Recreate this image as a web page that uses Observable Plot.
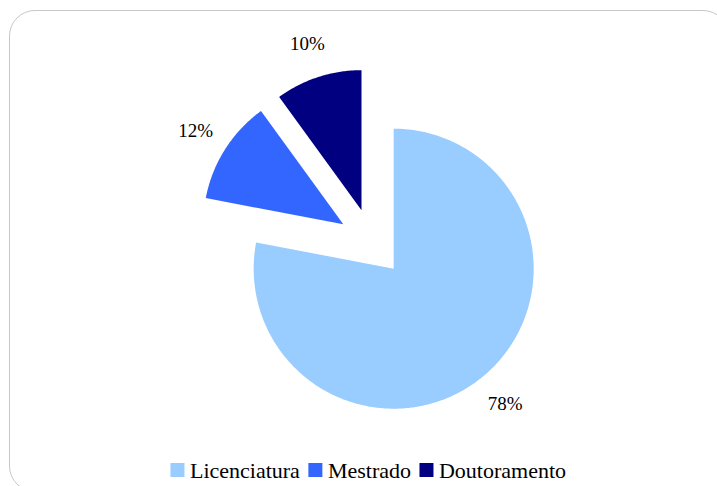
<!DOCTYPE html>
<html>
<head>
<meta charset="utf-8">
<script src="https://cdn.jsdelivr.net/npm/d3@7"></script>
<script src="https://cdn.jsdelivr.net/npm/@observablehq/plot@0.6"></script>
<style>
  html, body { margin: 0; padding: 0; background: #fff; overflow: hidden; }
  #wrap { position: relative; width: 717px; height: 486px; overflow: hidden; }
  #frame { position: absolute; left: 9px; top: 10px; width: 720px; height: 482px;
           border: 1.6px solid #c8c8c8; border-radius: 26px; box-sizing: border-box; }
  #chart { position: absolute; left: 0; top: 0; }
  #chart svg text { font-family: "Liberation Serif", "Times New Roman", serif !important; }
</style>
</head>
<body>
<div id="wrap"><div id="frame"></div><div id="chart"></div></div>
<script>
const categories = ["Licenciatura", "Mestrado", "Doutoramento"];
const values = [78, 12, 10];
const labels = ["78%", "12%", "10%"];
const colors = ["#99CCFF", "#3366FF", "#000080"];

const W = 717, H = 486;
const cx = 371.5, cy = 242, R = 140, explode = 34, labelR = 209;
const serif = "Liberation Serif, Times New Roman, serif";

const arcs = d3.pie().sort(null).startAngle(0).endAngle(2 * Math.PI)(values);

const polys = [];
const labelData = [];
arcs.forEach((a, i) => {
  const mid = (a.startAngle + a.endAngle) / 2;
  const ox = cx + explode * Math.sin(mid), oy = cy - explode * Math.cos(mid);
  const pts = [{x: ox, y: oy, cat: categories[i]}];
  const n = Math.max(8, Math.ceil((a.endAngle - a.startAngle) / 0.01));
  for (let k = 0; k <= n; k++) {
    const t = a.startAngle + (a.endAngle - a.startAngle) * k / n;
    pts.push({x: ox + R * Math.sin(t), y: oy - R * Math.cos(t), cat: categories[i]});
  }
  pts.push({x: ox, y: oy, cat: categories[i]});
  polys.push(...pts);
  labelData.push({x: cx + labelR * Math.sin(mid), y: cy - labelR * Math.cos(mid), text: labels[i]});
});

const ctx = document.createElement("canvas").getContext("2d");
ctx.font = "22px 'Liberation Serif', serif";
const sq = 14, gapSq = 5, gapItem = 9;
const widths = categories.map(c => ctx.measureText(c).width);
const total = widths.reduce((s, w) => s + sq + gapSq + w, 0) + gapItem * (categories.length - 1);
let lx = 368 - total / 2;
const legY = 470;
const legendRects = [], legendTexts = [];
categories.forEach((c, i) => {
  legendRects.push({x1: lx, x2: lx + sq, y1: legY - sq / 2, y2: legY + sq / 2, cat: c});
  legendTexts.push({x: lx + sq + gapSq, y: legY, text: c});
  lx += sq + gapSq + widths[i] + gapItem;
});

const chart = Plot.plot({
  width: W, height: H,
  margin: 0,
  x: {domain: [0, W], range: [0, W], axis: null},
  y: {domain: [0, H], range: [0, H], axis: null},
  color: {domain: categories, range: colors},
  style: {background: "transparent", fontFamily: serif},
  marks: [
    Plot.line(polys, {x: "x", y: "y", z: "cat", fill: "cat", stroke: "none", curve: "linear"}),
    Plot.text(labelData, {x: "x", y: "y", text: "text", fontSize: 19, fontFamily: serif, fill: "#000", textAnchor: "middle"}),
    Plot.rect(legendRects, {x1: "x1", x2: "x2", y1: "y1", y2: "y2", fill: "cat"}),
    Plot.text(legendTexts, {x: "x", y: "y", text: "text", fontSize: 22, fontFamily: serif, fill: "#000", textAnchor: "start"})
  ]
});
document.getElementById("chart").appendChild(chart);
</script>
</body>
</html>
